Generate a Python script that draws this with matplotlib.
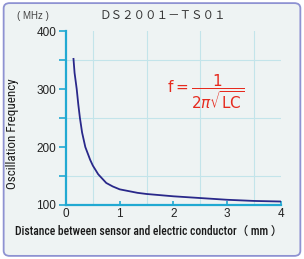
import matplotlib
matplotlib.use("Agg")
import matplotlib.pyplot as plt
from matplotlib import font_manager
from matplotlib.patches import FancyBboxPatch

# data
dist = [0.14, 0.16, 0.20, 0.23, 0.26, 0.30, 0.36, 0.45, 0.50, 0.60, 0.75,
        0.87, 1.0, 1.33, 1.5, 2.0, 2.5, 3.0, 3.5, 4.0]
freq = [352, 328, 300, 273, 250, 225, 200, 178, 168, 153, 138,
        132, 127, 121, 119, 115, 112, 109, 107, 106]
xticks = [0, 1, 2, 3, 4]
yticks = [100, 200, 300, 400]

bg = "#eef3f3"
axcol = "#21a9d2"
gridcol = "#c3e4ea"

# narrow font for the axis labels if one is around
names = set(f.name for f in font_manager.fontManager.ttflist)
narrow = None
for cand in ["Liberation Sans Narrow", "DejaVu Sans Condensed", "Roboto Condensed",
             "Open Sans Condensed", "Noto Sans Condensed"]:
    if cand in names:
        narrow = cand
        break
if narrow:
    nf = [narrow, "Noto Sans CJK JP", "DejaVu Sans"]
    lsize = 8.4
else:
    nf = ["Liberation Sans", "Noto Sans CJK JP", "DejaVu Sans"]
    lsize = 8

fig = plt.figure(figsize=(3.04, 2.59), dpi=100, facecolor="white")
frame = FancyBboxPatch((0.012, 0.012), 0.976, 0.976, boxstyle="round,pad=0,rounding_size=0.02",
                       transform=fig.transFigure, facecolor=bg, edgecolor="#8e92d2", lw=1.3,
                       zorder=-10)
fig.patches.append(frame)

ax = fig.add_axes([0.217, 0.2085, 0.707, 0.6715])
ax.set_facecolor(bg)
ax.plot(dist, freq, color="#29288a", lw=1.3, zorder=3)

ax.set_xlim(0, 4)
ax.set_ylim(100, 400)
ax.set_xticks([i * 0.5 for i in range(9)], minor=True)
ax.set_yticks([100 + i * 50 for i in range(7)], minor=True)
ax.grid(True, which="minor", color=gridcol, lw=0.8)
ax.set_xticks(xticks)
ax.set_yticks(yticks)
tf = ["Liberation Sans", "DejaVu Sans"]
ax.set_xticklabels([str(v) for v in xticks], fontsize=8.5, color="#222222", family=tf)
ax.set_yticklabels([str(v) for v in yticks], fontsize=8.5, color="#222222", family=tf)
ax.tick_params(axis="x", which="major", direction="in", length=3, color=axcol, width=1.2, pad=2)
ax.tick_params(axis="x", which="minor", length=0)
ax.tick_params(axis="y", which="both", direction="out", length=5, color=axcol, width=1.2, pad=2)

for s in ["top", "right"]:
    ax.spines[s].set_visible(False)
for s in ["left", "bottom"]:
    ax.spines[s].set_color(axcol)
    ax.spines[s].set_linewidth(1.6)

fig.text(0.042, 0.485, "Oscillation Frequency", fontsize=lsize + 1, family=nf, color="#1a1a1a",
         rotation=90, va="center", ha="center")
fig.text(0.05, 0.105, "Distance between sensor and electric conductor\uff08 mm \uff09", fontsize=lsize,
         family=nf, color="#1a1a1a", va="center", ha="left", weight="medium")

fig.text(0.055, 0.94, "( MHz )", fontsize=7, color="#444444", va="center", family=tf)
fig.text(0.535, 0.94, "\uff24\uff33\uff12\uff10\uff10\uff11\uff0d\uff34\uff33\uff10\uff11",
         fontsize=8.3, color="#333333", va="center", ha="center",
         family=["Noto Sans CJK JP", "DejaVu Sans"])
ax.text(0.47, 0.65, r"$\mathrm{f}=\dfrac{1}{2\pi\sqrt{\mathrm{LC}}}$", transform=ax.transAxes,
        fontsize=11, color="#e62a1e", va="center")

fig.savefig("out.png", dpi=100, facecolor="white")
